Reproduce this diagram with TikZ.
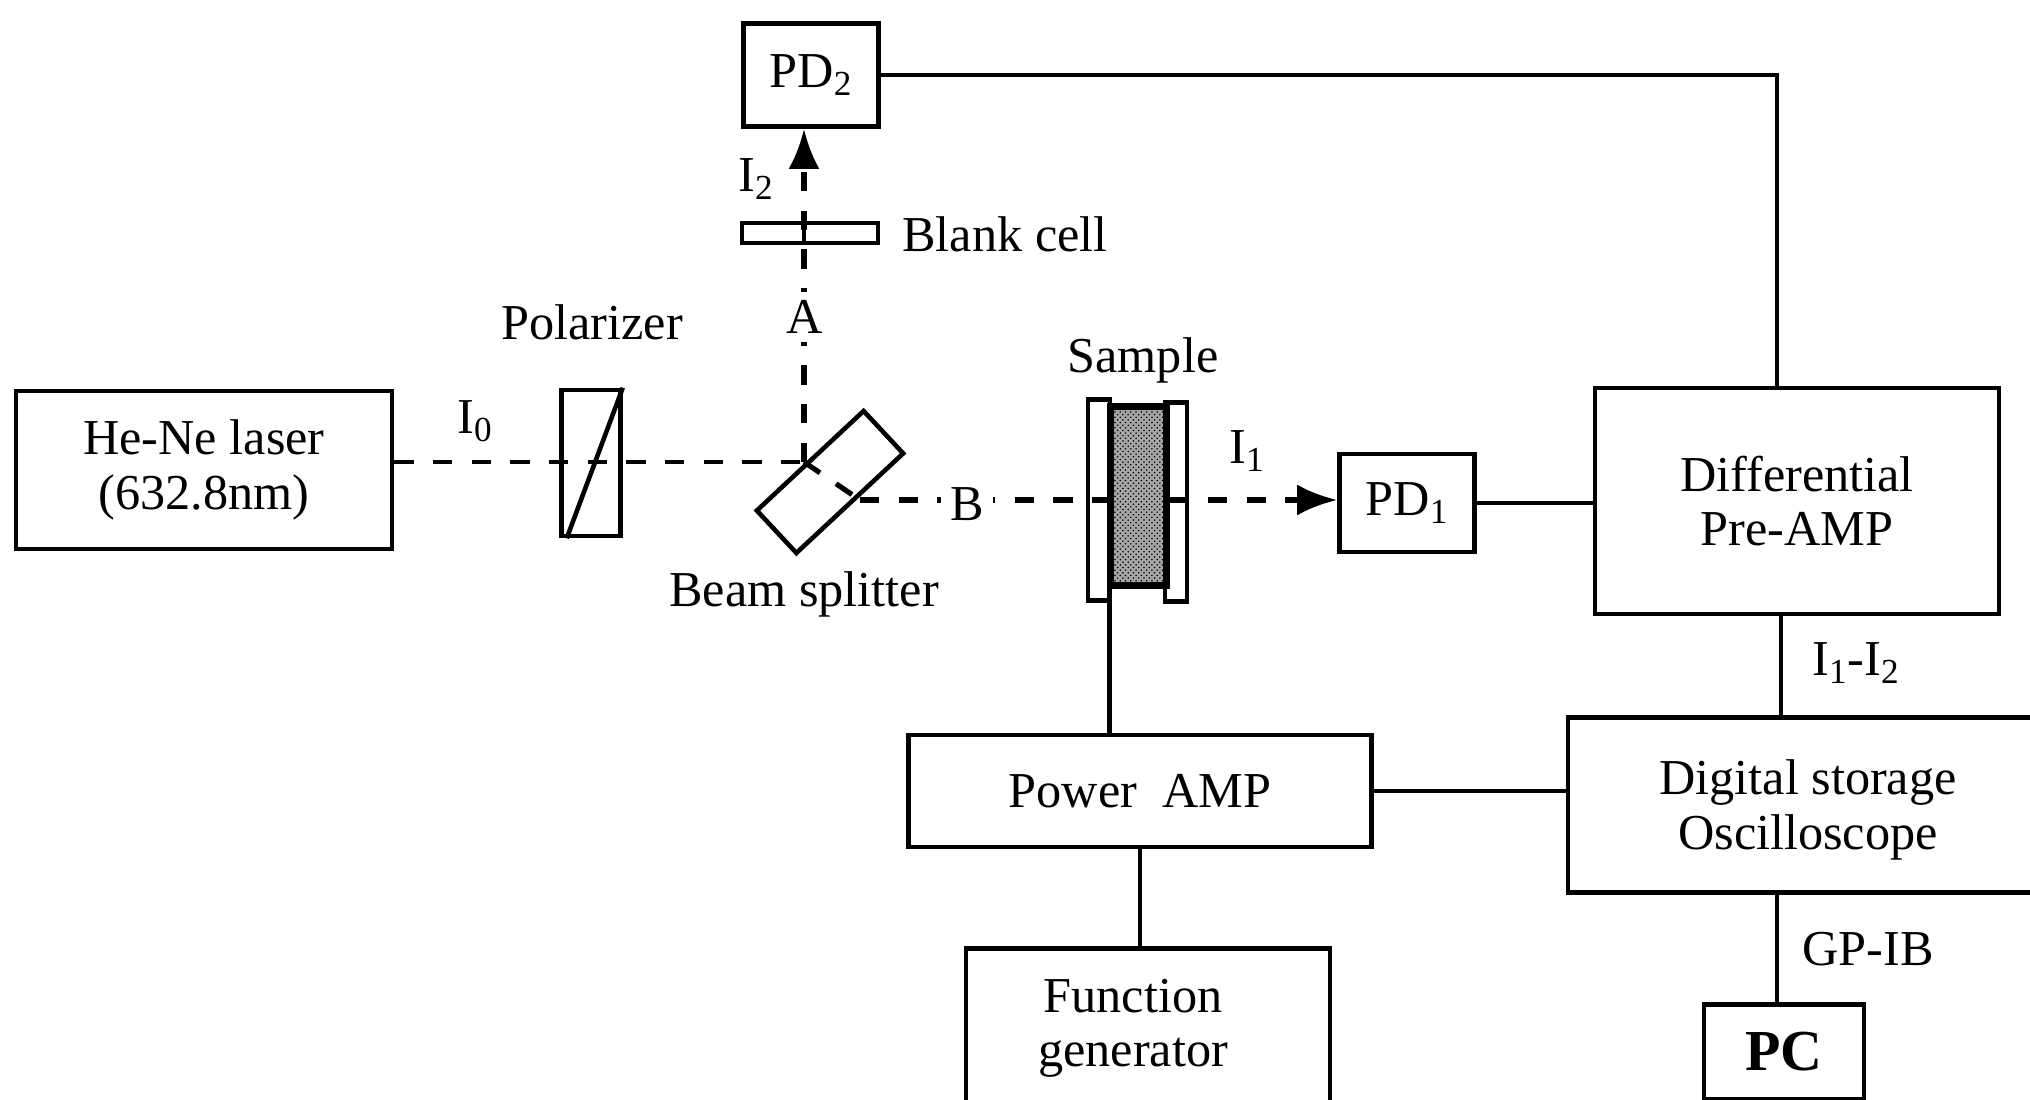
\documentclass[tikz,border=0pt]{standalone}
\usepackage{fontspec}
\setmainfont{Liberation Serif}
\usepackage{tikz}
\usetikzlibrary{arrows.meta}
\usetikzlibrary{patterns}

\begin{document}
\begin{tikzpicture}[line width=2.6pt, font=\fontsize{28.6}{31}\selectfont,
        box_style/.style={rectangle,draw=black,align=center,inner sep=0pt},
        label_style/.style={inner sep=1pt},
        gap_style/.style={fill=white,inner sep=5pt},
        beam_style/.style={draw=black,line width=2.9pt,dash pattern=on 11pt off 11pt},
        wire_style/.style={draw=black,line width=2.6pt}]

        \useasboundingbox (0,0) rectangle (40.6,22);
        \clip (0,0) rectangle (40.6,22);

        \node [box_style,minimum width=7.52cm,minimum height=3.16cm](laser) at (4.08,12.6) {He-Ne laser\\(632.8nm)};

        \node [box_style,minimum width=1.18cm,minimum height=2.92cm](polarizer) at (11.82,12.74) {};

        \node [box_style,minimum width=2.92cm,minimum height=1.16cm,rotate=43](splitter) at (16.6,12.36) {};

        \node [box_style,minimum width=2.72cm,minimum height=0.4cm](cell) at (16.2,17.34) {};

        \node [box_style,minimum width=2.7cm,minimum height=2.06cm](pd2) at (16.22,20.5) {PD\textsubscript{2}};

        \node [box_style,minimum width=2.7cm,minimum height=1.96cm](pd1) at (28.14,11.94) {PD\textsubscript{1}};

        \node [box_style,minimum width=8.08cm,minimum height=4.52cm](diff) at (35.94,11.98) {Differential\\Pre-AMP};

        \node [box_style,minimum width=9.56cm,minimum height=3.5cm](scope) at (36.14,5.9) {};

        \node [box_style,minimum width=9.26cm,minimum height=2.24cm](power) at (22.8,6.18) {Power\ \ AMP};

        \node [box_style,minimum width=7.28cm,minimum height=3.6cm](func) at (22.96,1.23) {};

        \node [box_style,minimum width=3.2cm,minimum height=1.9cm,font=\fontsize{33}{36}\selectfont\bfseries](pc) at (35.68,0.96) {PC};

        \coordinate (split) at (16.08,12.76);
        \coordinate (bend) at (17.2,12.0);
        \coordinate (diff_in) at (35.54,16);
        \coordinate (diff_out) at (35.62,8);
        \coordinate (gpib_out) at (35.54,3);

        % beams
        \draw [beam_style,line width=2.4pt] (split -| laser.east) -- (split);
        \draw [beam_style,-{Latex[length=0.8cm,width=0.62cm]}] (split) -- (split |- pd2.south);
        \draw [beam_style] (split) -- (bend);
        \draw [beam_style,-{Latex[length=0.8cm,width=0.62cm]}] (bend) -- (bend -| pd1.west);
        \draw [wire_style] (cell.north -| split) -- (cell.south -| split);
        \draw (polarizer.north east) -- ([xshift=0.15cm]polarizer.south west);

        % sample
        \node [box_style,minimum width=0.44cm,minimum height=4.02cm](plate_l) at (21.98,12.0) {};

        \node [box_style,minimum width=0.44cm,minimum height=3.98cm](plate_r) at (23.52,11.96) {};

        \node [box_style,fill=black!35,minimum width=1.06cm,minimum height=3.54cm](film) at (22.77,12.08) {};
        \fill [pattern=crosshatch dots,pattern color=black] (film.south west) rectangle (film.north east);
        \draw (film.south west) rectangle (film.north east);

        % wires
        \draw [wire_style] (pd2.east) -| (diff_in |- diff.north);
        \draw [wire_style] (pd1.east) -- (pd1.east -| diff.west);
        \draw [wire_style] (diff_out |- diff.south) -- (diff_out |- scope.north);
        \draw [wire_style] (gpib_out |- scope.south) -- (gpib_out |- pc.north);
        \draw [wire_style] (film.south west) -- (film.south west |- power.north);
        \draw [wire_style] (power.east) -- (power.east -| scope.west);
        \draw [wire_style] (power.south) -- (power.south |- func.north);

        % labels
        \node [label_style](func_text) at (22.66,1.43) [align=center] {Function\\generator};

        \node [label_style](scope_text) at (36.16,5.8) [align=center] {Digital storage\\Oscilloscope};

        \node [label_style](i0) at (9.5,13.58) {I\textsubscript{0}};

        \node [label_style](i1) at (24.94,12.98) {I\textsubscript{1}};

        \node [label_style](i2) at (15.12,18.42) {I\textsubscript{2}};

        \node [label_style](polarizer_text) at (11.84,15.56) {Polarizer};

        \node [label_style](cell_text) at (20.1,17.32) {Blank cell};

        \node [gap_style](a_text) at (16.1,15.66) {A};

        \node [gap_style](b_text) at (19.34,11.92) {B};

        \node [label_style](splitter_text) at (16.08,10.12) {Beam splitter};

        \node [label_style](sample_text) at (22.86,14.8) {Sample};

        \node [label_style](diff_text) at (37.12,8.74) {I\textsubscript{1}-I\textsubscript{2}};

        \node [label_style](gpib_text) at (37.36,3.02) {GP-IB};

\end{tikzpicture}
\end{document}
